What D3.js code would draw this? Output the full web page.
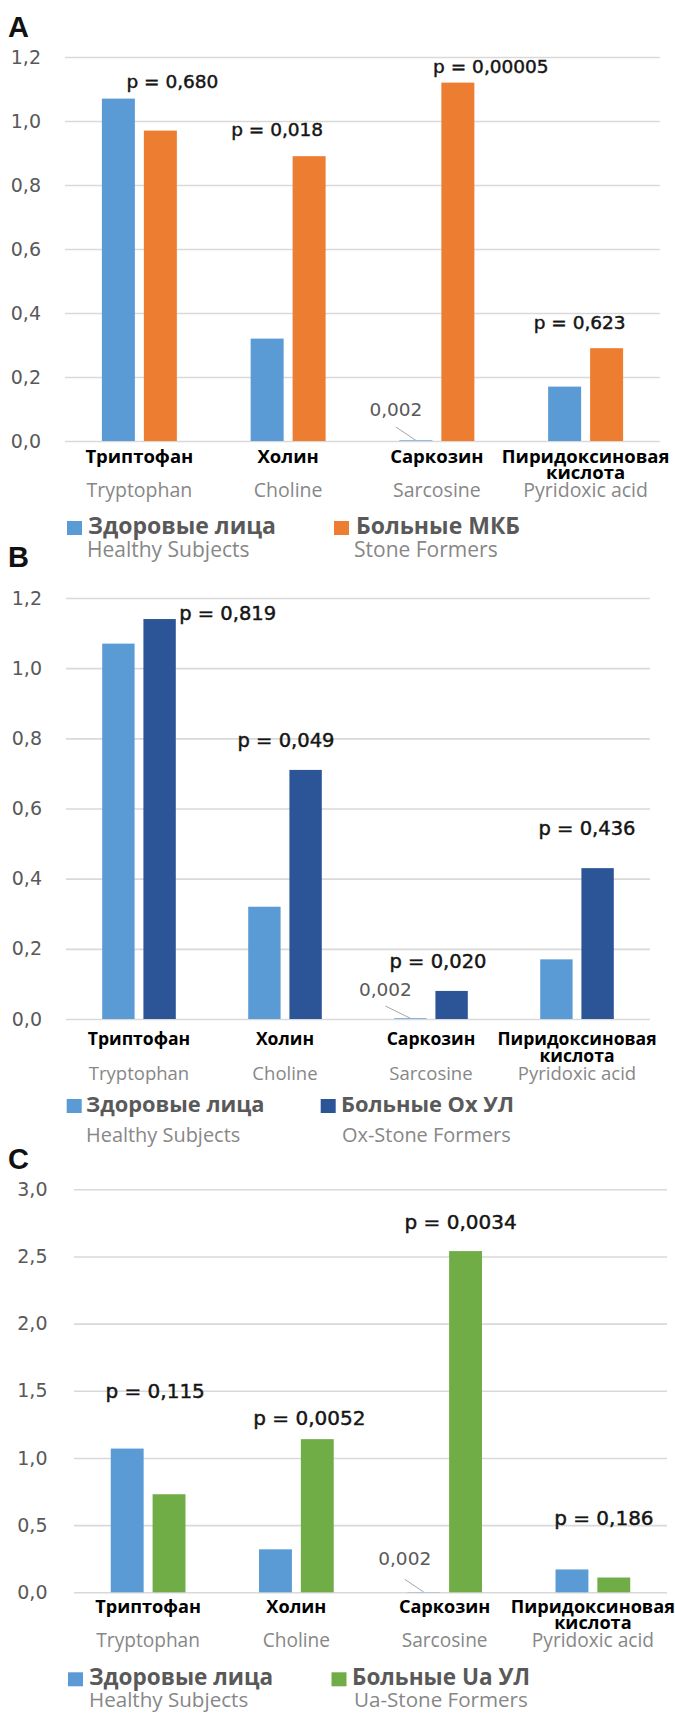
<!DOCTYPE html>
<html>
<head>
<meta charset="utf-8">
<script src="https://cdn.jsdelivr.net/npm/d3@7/dist/d3.min.js"></script>
<style>
  html, body { margin: 0; padding: 0; background: #fff; }
  svg { display: block; }
  .tick text { font-family: "DejaVu Sans", sans-serif; fill: #595959; }
  .plab { font-family: "DejaVu Sans", sans-serif; fill: #151515; stroke: #151515; stroke-width: 0.45px; }
  .zlab { font-family: "DejaVu Sans", sans-serif; fill: #595959; }
  .catru { font-family: "Open Sans", sans-serif; font-weight: 700; fill: #000; }
  .caten { font-family: "Open Sans", sans-serif; fill: #878787; }
  .legru { font-family: "Open Sans", sans-serif; font-weight: 700; fill: #595959; }
  .legen { font-family: "Open Sans", sans-serif; fill: #878787; }
  .letter { font-family: "Liberation Sans", Arial, sans-serif; font-weight: 700; fill: #111; }
</style>
</head>
<body>
<svg id="chart" width="675" height="1714"></svg>
<script>
// ---------------- DATA ----------------
const categoriesEn = ["Tryptophan", "Choline", "Sarcosine", "Pyridoxic acid"];
const categoriesRu = [["Триптофан"], ["Холин"], ["Саркозин"], ["Пиридоксиновая", "кислота"]];

const healthy      = [1.07, 0.32, 0.002, 0.17];
const stoneFormers = [0.97, 0.89, 1.12, 0.29];   // A
const oxStone      = [1.14, 0.71, 0.08, 0.43];   // B
const uaStone      = [0.73, 1.14, 2.54, 0.11];   // C

const pValuesA = ["p = 0,680", "p = 0,018", "p = 0,00005", "p = 0,623"];
const pValuesB = ["p = 0,819", "p = 0,049", "p = 0,020", "p = 0,436"];
const pValuesC = ["p = 0,115", "p = 0,0052", "p = 0,0034", "p = 0,186"];

const ticksA = [0, 0.2, 0.4, 0.6, 0.8, 1.0, 1.2];
const ticksB = [0, 0.2, 0.4, 0.6, 0.8, 1.0, 1.2];
const ticksC = [0, 0.5, 1.0, 1.5, 2.0, 2.5, 3.0];

const sarcosineHealthyLabel = "0,002";

const legendHealthyRu = "Здоровые лица";
const legendHealthyEn = "Healthy Subjects";
const legendRuA = "Больные МКБ",   legendEnA = "Stone Formers";
const legendRuB = "Больные Ох УЛ", legendEnB = "Ox-Stone Formers";
const legendRuC = "Больные Ua УЛ", legendEnC = "Ua-Stone Formers";

// ---------------- COLOURS ----------------
const cHealthy = "#5B9BD5";
const cA = "#ED7D31", cB = "#2C5597", cC = "#70AD47";

// ---------------- LAYOUT ----------------
const panels = [
  { letter: "A", letterY: 37, max: 1.2, ticks: ticksA, y0: 441, yTop: 57, xL: 65, xR: 660, tickPad: 24,
    other: stoneFormers, color: cA, p: pValuesA,
    pdx: [33, -11, 54, -6], pdy: [11, 20, 10, 19], pSize: 18.5,
    zdx: -20, zdy: 25, zlead: 11,
    ruDy: 22, ru2Dy: 38, enDy: 56,
    legTop: 80, legTxt: 93, legEn: 116, legX: [67, 334], legTX: [88, 356], legEX: [87, 354],
    legRu: legendRuA, legEnTxt: legendEnA, fs: 1.0 },
  { letter: "B", letterY: 567, max: 1.2, ticks: ticksB, y0: 1019, yTop: 598, xL: 66, xR: 650, tickPad: 24,
    other: oxStone, color: cB, p: pValuesB,
    pdx: [88.7, 1, 7, 10], pdy: [-1, 23, 23, 33], pSize: 19.5,
    zdx: -25, zdy: 23, zlead: 10,
    ruDy: 26, ru2Dy: 43, enDy: 61,
    legTop: 80, legTxt: 93, legEn: 123, legX: [66.7, 320.7], legTX: [86, 341], legEX: [86, 342],
    legRu: legendRuB, legEnTxt: legendEnB, fs: 0.95 },
  { letter: "C", letterY: 1169, max: 3.0, ticks: ticksC, y0: 1592.3, yTop: 1189.3, xL: 74, xR: 667, tickPad: 26.5,
    other: uaStone, color: cC, p: pValuesC,
    pdx: [7, 13, 16, 11], pdy: [51, 14, 22, 44.5], pSize: 20,
    zdx: -19, zdy: 27, zlead: 14,
    ruDy: 21, ru2Dy: 37, enDy: 55,
    legTop: 80, legTxt: 93, legEn: 115, legX: [68, 331.5], legTX: [89, 352], legEX: [89, 354],
    legRu: legendRuC, legEnTxt: legendEnC, fs: 0.98 }
];

const fmt = d3.formatLocale({ decimal: ",", thousands: " ", grouping: [3], currency: ["", ""] }).format(".1f");
const svg = d3.select("#chart");

function drawPanel(cfg) {
  const g = svg.append("g");
  const y = d3.scaleLinear().domain([0, cfg.max]).range([cfg.y0, cfg.yTop]);
  const x0 = d3.scaleBand().domain(categoriesEn).range([cfg.xL, cfg.xR]);
  const bw = x0.bandwidth();
  const gw = bw * 0.504;
  const x1 = d3.scaleBand().domain(["healthy", "other"]).range([bw / 2 - gw / 2, bw / 2 + gw / 2]).paddingInner(0.214);

  // panel letter
  g.append("text").attr("class", "letter").attr("x", 8).attr("y", cfg.letterY)
    .style("font-size", "29px").text(cfg.letter);

  // grid + y axis
  const axis = d3.axisLeft(y).tickValues(cfg.ticks).tickFormat(fmt)
    .tickSize(-(cfg.xR - cfg.xL)).tickPadding(cfg.tickPad);
  const ax = g.append("g").attr("transform", `translate(${cfg.xL},0)`).call(axis);
  ax.select(".domain").remove();
  ax.selectAll(".tick line").attr("stroke", "#d9d9d9").attr("stroke-width", 1.6);
  ax.selectAll(".tick text").style("font-size", "19px").attr("fill", "#595959");

  // bars
  const rows = categoriesEn.map((c, i) => ({ cat: c, i, vals: [
    { key: "healthy", v: healthy[i], color: cHealthy },
    { key: "other", v: cfg.other[i], color: cfg.color }
  ]}));
  const grp = g.selectAll(".grp").data(rows).join("g")
    .attr("transform", d => `translate(${x0(d.cat)},0)`);
  grp.selectAll("rect").data(d => d.vals).join("rect")
    .attr("x", d => x1(d.key))
    .attr("width", x1.bandwidth())
    .attr("y", d => y(d.v))
    .attr("height", d => y(0) - y(d.v))
    .attr("fill", d => d.color);

  // p-value labels
  rows.forEach((d, i) => {
    const top = y(Math.max(healthy[i], cfg.other[i]));
    g.append("text").attr("class", "plab")
      .attr("x", x0(d.cat) + bw / 2 + cfg.pdx[i])
      .attr("y", top - cfg.pdy[i])
      .attr("text-anchor", "middle")
      .style("font-size", cfg.pSize + "px")
      .text(cfg.p[i]);
  });

  // 0,002 label with leader line (healthy sarcosine)
  const sc = categoriesEn[2];
  const barCx = x0(sc) + x1("healthy") + x1.bandwidth() / 2;
  const lx = barCx + cfg.zdx, ly = y(0) - cfg.zdy;
  g.append("line").attr("x1", lx).attr("y1", ly + cfg.zlead)
    .attr("x2", barCx).attr("y2", y(healthy[2]))
    .attr("stroke", "#a6a6a6").attr("stroke-width", 1);
  g.append("text").attr("class", "zlab").attr("x", lx).attr("y", ly)
    .attr("text-anchor", "middle").style("font-size", "18.5px").text(sarcosineHealthyLabel);

  // category labels
  categoriesEn.forEach((c, i) => {
    const cx = x0(c) + bw / 2;
    categoriesRu[i].forEach((line, k) => {
      g.append("text").attr("class", "catru")
        .attr("x", cx).attr("y", y(0) + (k === 0 ? cfg.ruDy : cfg.ru2Dy))
        .attr("text-anchor", "middle").style("font-size", (18.5 * cfg.fs) + "px").text(line);
    });
    g.append("text").attr("class", "caten")
      .attr("x", cx).attr("y", y(0) + cfg.enDy)
      .attr("text-anchor", "middle").style("font-size", (19.5 * cfg.fs) + "px").text(c);
  });

  // legend
  const legItems = [
    { color: cHealthy, ru: legendHealthyRu, en: legendHealthyEn },
    { color: cfg.color, ru: cfg.legRu, en: cfg.legEnTxt }
  ];
  legItems.forEach((it, k) => {
    g.append("rect").attr("x", cfg.legX[k]).attr("y", y(0) + cfg.legTop)
      .attr("width", 15).attr("height", 14).attr("fill", it.color);
    g.append("text").attr("class", "legru").attr("x", cfg.legTX[k]).attr("y", y(0) + cfg.legTxt)
      .style("font-size", (23 * cfg.fs) + "px").text(it.ru);
    g.append("text").attr("class", "legen").attr("x", cfg.legEX[k]).attr("y", y(0) + cfg.legEn)
      .style("font-size", (21 * cfg.fs) + "px").text(it.en);
  });
}

panels.forEach(drawPanel);
</script>
</body>
</html>
